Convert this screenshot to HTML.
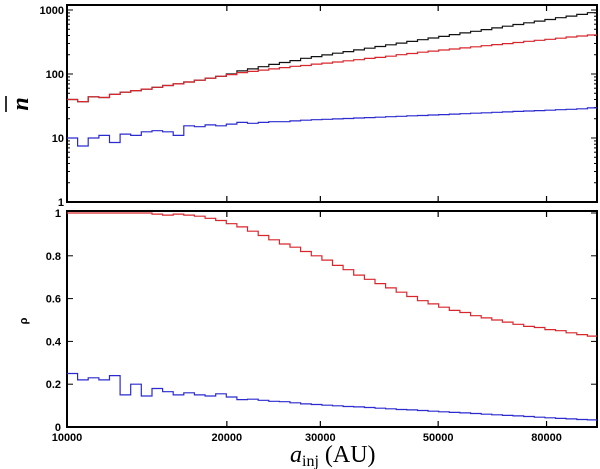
<!DOCTYPE html>
<html><head><meta charset="utf-8"><style>
body{margin:0;background:#fff;}
svg{display:block;font-family:"Liberation Sans",sans-serif;}
</style></head><body>
<svg id="chart" width="600" height="469" viewBox="0 0 600 469" xmlns="http://www.w3.org/2000/svg"></svg>
<script>
const binEdgesLog = [4, 5];
const nBins = 50;
const xTicks = [10000, 20000, 30000, 50000, 80000];
const xTickLabels = ["10000", "20000", "30000", "50000", "80000"];
const topYTicks = [1, 10, 100, 1000];
const topYTickLabels = ["1", "10", "100", "1000"];
const botYTicks = [0, 0.2, 0.4, 0.6, 0.8, 1];
const botYTickLabels = ["0", "0.2", "0.4", "0.6", "0.8", "1"];
const topBlack = [40,37,44,43,48,52,55,58,62,66,70,75,80,86,92,100,112,120,130,141,151,162,176,187,199,211,224,238,253,269,286,304,323,343,365,387,412,438,465,494,525,558,593,631,670,711,757,804,855,908];
const topRed = [40,37,44,43,48,52,55,58,62,66,70,75,80,86,92,98,105,110,115,120,126,132,136,143,148,154,161,167,175,182,190,200,209,219,228,237,246,256,266,277,288,299,311,324,336,349,363,378,393,407];
const topBlue = [10,7.5,10,11,8.5,11.5,11,12.5,13,12.5,11,15.5,15,16,15.5,16.5,17.5,17,17.5,18,18,18.5,19,19.3,19.6,19.9,20.2,20.5,20.8,21.1,21.5,21.8,22.2,22.5,22.9,23.2,23.6,24,24.4,24.8,25.2,25.6,26,26.4,26.8,27.2,27.7,28.1,28.6,29.5];
const botRed = [1,1,1,1,1,1,1,1,0.995,0.99,0.995,0.99,0.985,0.975,0.965,0.95,0.935,0.915,0.895,0.875,0.855,0.84,0.82,0.80,0.78,0.755,0.735,0.71,0.69,0.67,0.65,0.63,0.61,0.59,0.575,0.56,0.545,0.535,0.52,0.51,0.50,0.49,0.48,0.47,0.465,0.455,0.45,0.44,0.432,0.425];
const botBlue = [0.25,0.22,0.23,0.22,0.24,0.15,0.2,0.145,0.18,0.165,0.15,0.16,0.15,0.145,0.155,0.14,0.128,0.13,0.125,0.12,0.118,0.113,0.108,0.105,0.102,0.099,0.096,0.094,0.091,0.088,0.085,0.082,0.080,0.077,0.074,0.071,0.068,0.066,0.063,0.060,0.057,0.054,0.052,0.049,0.046,0.043,0.040,0.038,0.035,0.033];

const NS = "http://www.w3.org/2000/svg";
const svg = document.getElementById('chart');
const X0 = 67, X1 = 597;
const TOP = {y0: 5, y1: 202};
const BOT = {y0: 211, y1: 427};
function xScale(a){ return X0 + (Math.log10(a) - 4) * 531; }
function xBin(i){ return X0 + (i / nBins) * (binEdgesLog[1]-binEdgesLog[0]) * 531; }
function yTop(v){ return 202 - 64 * Math.log10(v); }
function yBot(p){ return 427 - 214 * p; }
function mk(tag, attrs){ const e = document.createElementNS(NS, tag); for (const k in attrs) e.setAttribute(k, attrs[k]); svg.appendChild(e); return e; }

function stepPath(vals, ys){
  let d = '';
  for (let i = 0; i < vals.length; i++){
    const xa = Math.min(xBin(i), X1), xb = Math.min(xBin(i+1), X1), y = ys(vals[i]);
    d += (i === 0 ? 'M' : 'L') + xa.toFixed(1) + ',' + y.toFixed(1) + 'L' + xb.toFixed(1) + ',' + y.toFixed(1);
  }
  return d;
}
function series(vals, ys, color, name){
  const p = mk('path', {d: stepPath(vals, ys), fill: 'none', stroke: color, 'stroke-width': 1.2});
  
  
}

// frames
[TOP, BOT].forEach((P, k) => {
  const r = mk('rect', {x: X0, y: P.y0, width: X1 - X0, height: P.y1 - P.y0, fill: 'none', stroke: '#000', 'stroke-width': 2});
  
  
  // x ticks
  xTicks.forEach((t, i) => {
    if (i === 0) return;
    const x = xScale(t);
    const a = mk('line', {x1: x, x2: x, y1: P.y0, y2: P.y0 + 6, stroke: '#000', 'stroke-width': 1.2});
    
    
    const b = mk('line', {x1: x, x2: x, y1: P.y1, y2: P.y1 - 6, stroke: '#000', 'stroke-width': 1.2});
    
    
  });
});

// top y ticks (log, major+minor)
for (let d = 0; d < 4; d++){
  for (let m = 1; m <= 9; m++){
    const v = Math.pow(10, d) * m;
    const y = yTop(v);
    if (y < TOP.y0) continue;
    const len = m === 1 ? 6 : 3;
    [[X0, X0 + len], [X1, X1 - len]].forEach(([a, b]) => {
      const l = mk('line', {x1: a, x2: b, y1: y, y2: y, stroke: '#000', 'stroke-width': 1});
      
      
    });
  }
}
topYTicks.forEach((t, i) => {
  const tx = mk('text', {x: X0 - 3, y: yTop(t) + 4, 'text-anchor': 'end', 'font-size': 11, 'font-weight': 'bold'});
  tx.textContent = topYTickLabels[i];
  
  
});
botYTicks.forEach((t, i) => {
  const y = yBot(t);
  [[X0, X0 + 6], [X1, X1 - 6]].forEach(([a, b]) => {
    const l = mk('line', {x1: a, x2: b, y1: y, y2: y, stroke: '#000', 'stroke-width': 1});
    
    
  });
  const tx = mk('text', {x: X0 - 6, y: y + 4, 'text-anchor': 'end', 'font-size': 11, 'font-weight': 'bold'});
  tx.textContent = botYTickLabels[i];
  
  
});
xTicks.forEach((t, i) => {
  const tx = mk('text', {x: xScale(t), y: 441, 'text-anchor': 'middle', 'font-size': 11, 'font-weight': 'bold'});
  tx.textContent = xTickLabels[i];
  
  
});

series(topBlack, yTop, '#111', 'top-black-series');
series(topRed, yTop, '#d8262c', 'top-red-series');
series(topBlue, yTop, '#2a2ad0', 'top-blue-series');
series(botRed, yBot, '#d8262c', 'bottom-red-series');
series(botBlue, yBot, '#2a2ad0', 'bottom-blue-series');

// axis titles
const yt = mk('text', {x: 0, y: 0, transform: 'translate(28,104) rotate(-90)', 'text-anchor': 'middle', 'font-size': 24, 'font-style': 'italic', 'font-family': 'Liberation Serif, serif', 'font-weight': 'bold'});
yt.textContent = 'n';


const ob = mk('line', {x1: 6, x2: 6, y1: 96, y2: 112, stroke: '#000', 'stroke-width': 1.6});


const rt = mk('text', {x: 0, y: 0, transform: 'translate(27,321) rotate(-90)', 'text-anchor': 'middle', 'font-size': 11, 'font-weight': 'bold'});
rt.textContent = 'ρ';


const xt = mk('text', {x: 290, y: 462, 'font-size': 24, 'font-family': 'Liberation Serif, serif'});


xt.innerHTML = '<tspan font-style="italic">a</tspan><tspan font-size="16" dy="4">inj</tspan><tspan dy="-4"> (AU)</tspan>';
</script>
</body></html>
